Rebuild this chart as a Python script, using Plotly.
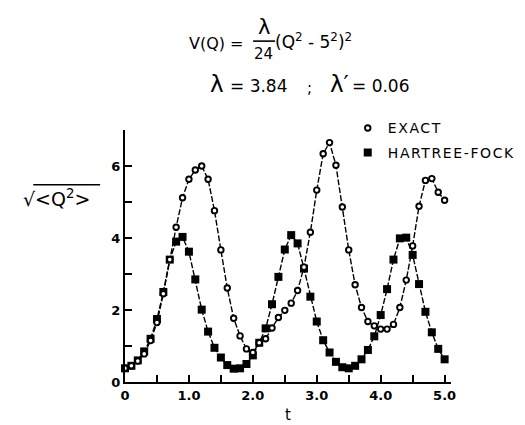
import plotly.graph_objects as go

# ---- data ----
t = [0.0, 0.1, 0.2, 0.3, 0.4, 0.5, 0.6, 0.7, 0.8, 0.9,
     1.0, 1.1, 1.2, 1.3, 1.4, 1.5, 1.6, 1.7, 1.8, 1.9,
     2.0, 2.1, 2.2, 2.3, 2.4, 2.5, 2.6, 2.7, 2.8, 2.9,
     3.0, 3.1, 3.2, 3.3, 3.4, 3.5, 3.6, 3.7, 3.8, 3.9,
     4.0, 4.1, 4.2, 4.3, 4.4, 4.5, 4.6, 4.7, 4.8, 4.9, 5.0]

exact = [0.38, 0.45, 0.58, 0.78, 1.15, 1.65, 2.45, 3.40, 4.30, 5.12,
         5.63, 5.89, 6.00, 5.63, 4.76, 3.67, 2.61, 1.77, 1.28, 0.92,
         0.82, 1.09, 1.20, 1.50, 1.79, 1.99, 2.19, 2.54, 3.19, 4.16,
         5.33, 6.34, 6.65, 6.02, 4.86, 3.67, 2.70, 2.07, 1.68, 1.56,
         1.47, 1.47, 1.60, 2.07, 2.83, 3.78, 4.88, 5.60, 5.65, 5.27, 5.05]

hartree_fock = [0.38, 0.45, 0.60, 0.85, 1.20, 1.75, 2.50, 3.40, 3.90, 4.03,
                3.62, 2.85, 2.01, 1.40, 0.95, 0.68, 0.47, 0.37, 0.38, 0.50,
                0.74, 1.09, 1.49, 2.16, 2.92, 3.68, 4.08, 3.85, 3.15, 2.37,
                1.68, 1.16, 0.82, 0.56, 0.41, 0.38, 0.45, 0.63, 0.89, 1.27,
                1.86, 2.58, 3.40, 3.99, 4.01, 3.53, 2.72, 1.95, 1.38, 0.92, 0.63]

x_tickvals = [0, 1.0, 2.0, 3.0, 4.0, 5.0]
x_ticktext = ["0", "1.0", "2.0", "3.0", "4.0", "5.0"]
y_tickvals = [0, 2, 4, 6]
y_ticktext = ["0", "2", "4", "6"]

# ---- geometry helpers (pixel -> paper) ----
W, H = 525, 425
L, R, T, B = 117, 458, 122, 380
def px(x):
    return (x - L) / (R - L)
def py(y):
    return (B - y) / (B - T)

FONT = "DejaVu Sans"

fig = go.Figure()

# connecting lines
fig.add_trace(go.Scatter(x=t, y=exact, mode="lines", line=dict(color="black", width=1.4, dash="6px,2px"),
                         showlegend=False, cliponaxis=False, hoverinfo="skip"))
fig.add_trace(go.Scatter(x=t, y=hartree_fock, mode="lines", line=dict(color="black", width=1.4, dash="6px,2px"),
                         showlegend=False, cliponaxis=False, hoverinfo="skip"))
ls = "letter-spacing:1.6px"
# markers
fig.add_trace(go.Scatter(x=t, y=hartree_fock, mode="markers",
                         name='<span style="%s">HARTREE-FOCK</span>' % ls,
                         marker=dict(symbol="square", size=8, color="black"),
                         cliponaxis=False, legend="legend2"))
fig.add_trace(go.Scatter(x=t, y=exact, mode="markers",
                         name='<span style="%s">EXACT</span>' % ls,
                         marker=dict(symbol="circle", size=5.5, color="white",
                                     line=dict(color="black", width=1.9)),
                         cliponaxis=False, legend="legend"))

fig.update_layout(
    width=W, height=H,
    margin=dict(l=L, r=W - R, t=T, b=H - B),
    paper_bgcolor="white", plot_bgcolor="white",
    font=dict(family=FONT, color="black"),
    xaxis=dict(range=[0, 5.1], showgrid=False, zeroline=False,
               showline=True, linecolor="black", linewidth=2,
               ticks="inside", ticklen=7, tickwidth=2, tickcolor="black",
               tickvals=x_tickvals, ticktext=["<b>%s</b>" % s for s in x_ticktext],
               tickfont=dict(size=13, family=FONT),
               minor=dict(ticks="inside", ticklen=7, tickwidth=2, tickcolor="black",
                          tick0=0, dtick=0.5, showgrid=False),
               title=dict(text="t", font=dict(size=15, family=FONT), standoff=8)),
    yaxis=dict(range=[0, 7], showgrid=False, zeroline=False,
               showline=True, linecolor="black", linewidth=2,
               ticks="inside", ticklen=7, tickwidth=2, tickcolor="black",
               tickvals=y_tickvals, ticktext=["<b>%s</b>" % s for s in y_ticktext],
               tickfont=dict(size=13, family=FONT),
               minor=dict(ticks="inside", ticklen=7, tickwidth=2, tickcolor="black",
                          tick0=0, dtick=1, showgrid=False)),
    legend=dict(x=px(350), y=py(104), xanchor="left", yanchor="top",
                font=dict(size=14, family=FONT), bgcolor="rgba(0,0,0,0)",
                itemwidth=30, tracegroupgap=0),
    legend2=dict(x=px(350), y=py(129), xanchor="left", yanchor="top",
                 font=dict(size=14, family=FONT), bgcolor="rgba(0,0,0,0)",
                 itemwidth=30, tracegroupgap=0),
)

ann = []
def add_text(text, x, y, xanchor="center", size=16):
    ann.append(dict(text=text, x=px(x), y=py(y), xref="paper", yref="paper",
                    xanchor=xanchor, yanchor="middle", showarrow=False,
                    font=dict(size=size, family=FONT, color="black")))

# title formula
add_text("V(Q) =", 244, 33, xanchor="right", size=16)
add_text("λ", 262, 17, size=21)
add_text("24", 262, 44, size=15)
add_text("(Q<sup>2</sup> - 5<sup>2</sup>)<sup>2</sup>", 272, 31, xanchor="left", size=17)
# second line
add_text("λ", 204, 75, xanchor="left", size=23)
add_text("= 3.84", 225, 77, xanchor="left", size=17)
add_text(";", 310, 79, size=15)
add_text("λ′", 329, 75, xanchor="left", size=23)
add_text("= 0.06", 352, 77, xanchor="left", size=17)
# y-axis label
add_text("√&lt;Q<sup>2</sup>&gt;", 8, 192, xanchor="left", size=19)

fig.update_layout(annotations=ann)

shapes = [
    # fraction bar
    dict(type="line", xref="paper", yref="paper", x0=px(251), x1=px(274), y0=py(31), y1=py(31),
         line=dict(color="black", width=1.6)),
    # radical overline
    dict(type="line", xref="paper", yref="paper", x0=px(21), x1=px(91), y0=py(178), y1=py(178),
         line=dict(color="black", width=1.4)),
]
fig.update_layout(shapes=shapes)

fig.write_html("out.html")
